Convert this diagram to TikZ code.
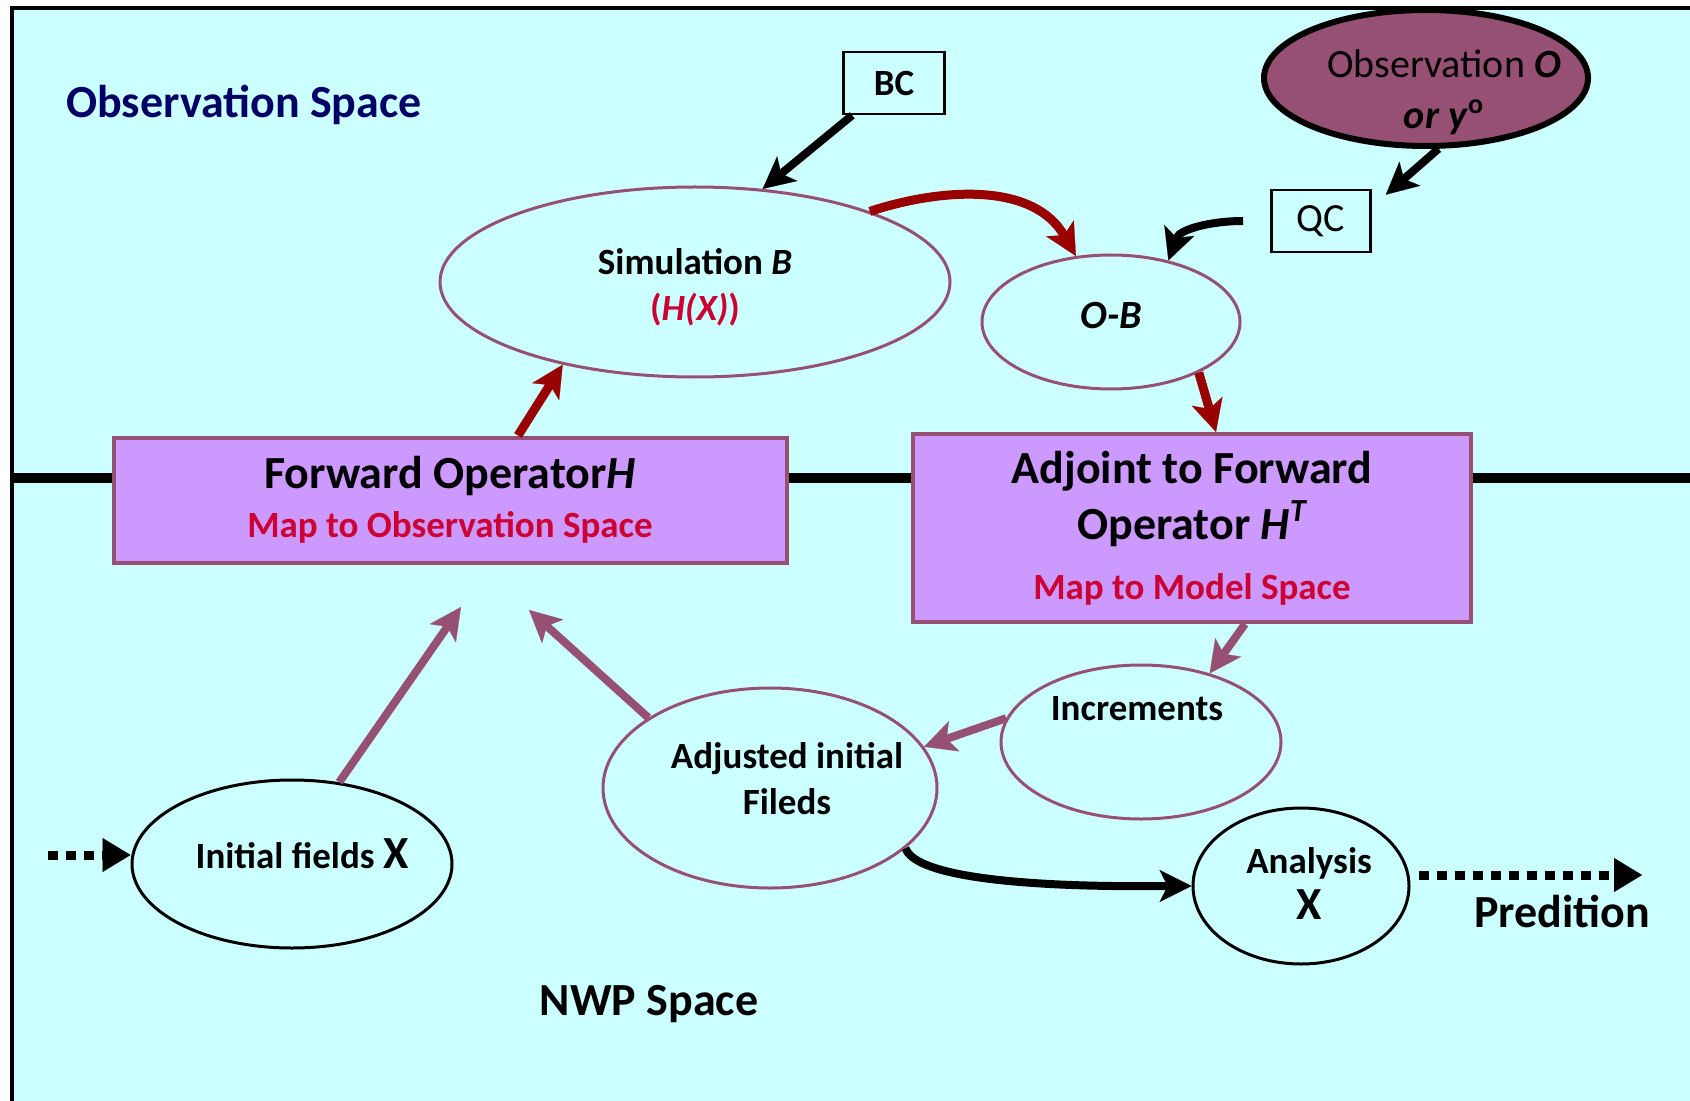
\documentclass[tikz,border=0pt]{standalone}
\usepackage{fontspec}
\setmainfont{Carlito}
\usetikzlibrary{arrows.meta,shapes.geometric}

\definecolor{bgcyan}{HTML}{CCFFFF}
\definecolor{boxfill}{HTML}{CC99FF}
\definecolor{plum}{HTML}{955073}
\definecolor{darkred}{HTML}{990000}
\definecolor{txtred}{HTML}{CC0033}
\definecolor{navy}{HTML}{000066}

\newcommand{\bigfont}{\fontsize{23}{28}\selectfont\bfseries}
\newcommand{\midfont}{\fontsize{18.5}{23}\selectfont\bfseries}
\newcommand{\obsfont}{\fontsize{20}{25.5}\selectfont}

\tikzset{
  oval/.style={ellipse, draw=plum, line width=1.5pt, inner sep=0pt, align=center, font=\midfont},
  blkoval/.style={oval, draw=black},
  ovaltext/.style={align=center, font=\midfont},
  opbox/.style={rectangle, draw=plum, fill=boxfill, line width=2pt, inner sep=0pt, align=center, font=\bigfont},
  tagbox/.style={rectangle, draw=black, line width=1.3pt, inner sep=0pt},
  blkarrow/.style={draw=black, line width=4pt, -{Stealth[length=16pt,width=16pt,inset=4pt,line width=0.1pt]}},
  redarrow/.style={blkarrow, draw=darkred, line width=4.5pt},
  plumarrow/.style={blkarrow, draw=plum},
  dotarrow/.style={draw=black, line width=4.5pt, dash pattern=on 5pt off 4pt, -{Triangle[length=14pt,width=17pt,line width=0.1pt]}},
  spacelabel/.style={font=\bigfont}
}

\begin{document}
\begin{tikzpicture}[x=0.5pt,y=-0.5pt]
    \useasboundingbox (0,0) rectangle (1690,1101);
    \clip (0,0) rectangle (1690,1101);
    \fill[white] (0,0) rectangle (1690,1101);
    \fill[bgcyan] (12,8) rectangle (1700,1110);
    \draw[line width=2pt] (12,1110) -- (12,8.5) -- (1700,8.5);

    % boundary between the two spaces
    \coordinate (lstart) at (12,478);
    \coordinate (lend) at (1700,478);
    \draw[line width=5pt] (lstart) -- (lend);

    \node[spacelabel, text=navy] (obsspace) at (244,105) {Observation Space};
    \node[spacelabel] (nwpspace) at (649,1004) {NWP Space};
    \node[spacelabel] (predition) at (1562,911) {Predition};

    \node[opbox, minimum width=336.5pt, minimum height=62.5pt] (fwdop) at (450,500)
        {Forward Operator\textit{H}\\[-3.5pt]{\midfont\color{txtred}Map to Observation Space}};
    \node[opbox, minimum width=279pt, minimum height=94pt] (adjop) at (1192,528)
        {Adjoint to Forward\\Operator \textit{H}\textsuperscript{\itshape T}\\[2pt]{\midfont\color{txtred}Map to Model Space}};

    \node[oval, minimum width=255pt, minimum height=95pt,
        label={[ovaltext,yshift=-2.5pt]center:Simulation \textit{B}\\{\color{txtred}({\itshape H(X)})}}] (sim) at (695,282) {};
    \node[oval, minimum width=129pt, minimum height=67pt,
        label={[yshift=3pt,font=\fontsize{20}{24}\selectfont\bfseries]center:\textit{O-B}}] (omb) at (1111,322) {};
    \node[oval, draw=black, fill=plum, line width=3pt, minimum width=162pt, minimum height=68pt,
        label={[xshift=9pt,yshift=-7pt,align=center,font=\obsfont]center:Observation \textbf{\textit{O}}\\\textbf{\textit{or y}\textsuperscript{o}}}] (obs) at (1426,78) {};
    \node[tagbox, minimum width=50.5pt, minimum height=31pt, font=\midfont] (bc) at (894,83) {BC};
    \node[tagbox, minimum width=49.5pt, minimum height=31pt, font=\obsfont] (qc) at (1321,221) {QC};

    \node[blkoval, minimum width=160pt, minimum height=84pt,
        label={[ovaltext,xshift=5pt,yshift=5pt]center:Initial fields {\bigfont X}}] (init) at (292,864) {};
    \node[oval, minimum width=167pt, minimum height=100pt,
        label={[ovaltext,xshift=8.5pt,yshift=4.5pt]center:Adjusted initial\\Fileds}] (adjfld) at (770,788) {};
    \node[oval, minimum width=140pt, minimum height=77pt,
        label={[ovaltext,yshift=16.5pt,xshift=-2pt]center:Increments}] (incr) at (1141,742) {};
    \node[blkoval, minimum width=108pt, minimum height=78pt,
        label={[ovaltext,xshift=4pt,yshift=1pt]center:Analysis\\{\bigfont X}}] (anl) at (1301,886) {};

    \coordinate (p1) at (461,607);
    \coordinate (p2) at (529,610);
    \coordinate (feed) at (48,855);
    \coordinate (predend) at (1642,875);

    \draw[blkarrow] ([xshift=5pt]bc.south west) -- (sim.54);
    \draw[blkarrow] (obs.-80) -- ([xshift=7pt,yshift=-3pt]qc.north east);
    \draw[blkarrow] ([xshift=-13.5pt]qc.west) to[out=180,in=70] (omb.47);
    \draw[redarrow] (sim.22) to[out=18,in=120] (omb.118);
    \draw[redarrow] (omb.-30) -- ([xshift=12pt]adjop.north);
    \draw[redarrow] ([xshift=34pt]fwdop.north) -- (sim.212);
    \draw[plumarrow] ([xshift=26.5pt]adjop.south) -- (incr.45);
    \draw[plumarrow] (incr.170) -- (adjfld.15);
    \draw[plumarrow] (init.60) -- (p1);
    \draw[plumarrow] (adjfld.150) -- (p2);
    \draw[blkarrow] (adjfld.-24) to[out=-70,in=180,looseness=0.4] (anl.west);
    \draw[dotarrow] (feed) -- (feed -| init.west);
    \draw[dotarrow] ([xshift=4pt]predend -| anl.east) -- (predend);
\end{tikzpicture}
\end{document}
